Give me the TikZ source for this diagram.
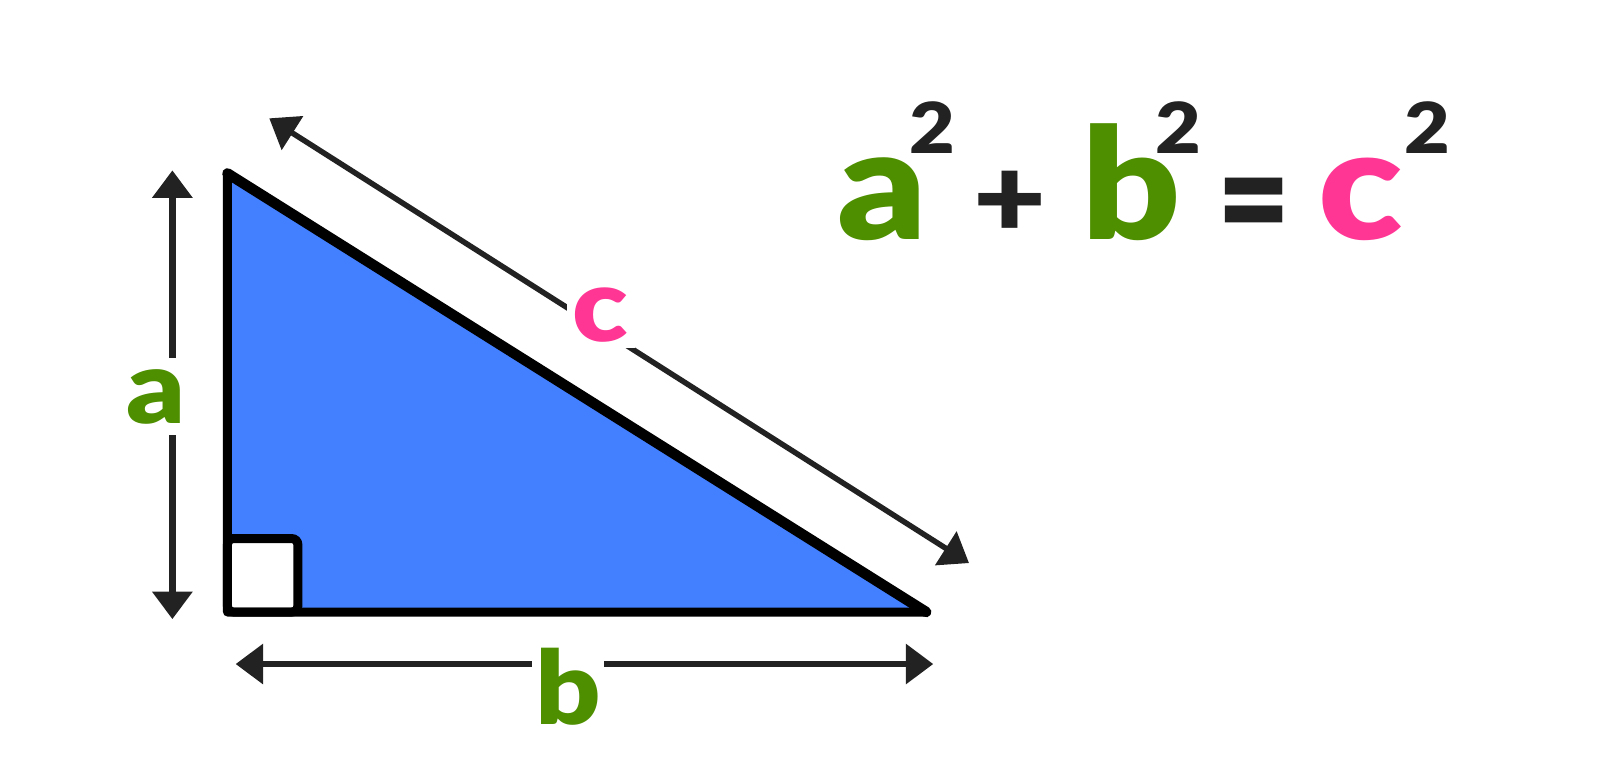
\documentclass[tikz,border=0pt]{standalone}
\usepackage{fontspec}
\usetikzlibrary{arrows.meta}
\newfontfamily\heavyfont{Lato Black}[FakeStretch=1.12]
\definecolor{sideblue}{RGB}{66,128,255}
\definecolor{leggreen}{RGB}{78,143,0}
\definecolor{hyppink}{RGB}{255,54,148}
\definecolor{inkgray}{RGB}{34,34,34}
\tikzset{
	dimarrow/.style={draw=inkgray, line width=#1, {Triangle[length=2.75mm,width=3.9mm]}-{Triangle[length=2.75mm,width=3.9mm]}},
	dimarrow/.default=0.65mm,
	sidelabel/.style={font=\heavyfont\fontsize{29}{29}\selectfont, inner sep=0.6mm, fill=white},
	bigglyph/.style={font=\heavyfont\fontsize{44}{44}\selectfont, inner sep=0pt, anchor=base},
	smallglyph/.style={font=\heavyfont\fontsize{20}{20}\selectfont, inner sep=0pt, anchor=base, text=inkgray},
	opglyph/.style={font=\heavyfont\fontsize{32}{32}\selectfont, inner sep=0pt, text=inkgray}
}

\begin{document}
\begin{tikzpicture}[x=0.0102cm, y=-0.0102cm]
		%%%%% START %%%%%
		\useasboundingbox (0, 0) rectangle (1568.63, 765.69);
		
		% triangle
		\fill[sideblue] (223, 170) -- (223, 600) -- (908, 600) -- cycle;
		\draw[fill=white, line width=0.9mm, rounded corners=0.6mm] (223, 528) rectangle (292, 600);
		\draw[line width=0.9mm, line join=round] (223, 170) -- (223, 600) -- (908, 600) -- cycle;
		\draw[line width=1.05mm, line cap=round] (223, 170) -- (908, 600);
		
		% side arrows
		\coordinate (aTop) at (169, 167);
		\coordinate (aBot) at (169, 607);
		\coordinate (bLeft) at (231, 651);
		\coordinate (bRight) at (915, 651);
		\coordinate (cUp) at (264, 116);
		\coordinate (cDown) at (950, 552);
		\draw[dimarrow] (aTop) -- (aBot);
		\draw[dimarrow] (bLeft) -- (bRight);
		\draw[dimarrow=0.55mm] (cUp) -- (cDown);
		
		\node[sidelabel, text=leggreen, inner ysep=1.1mm] (aLbl) at (153, 389) {a};
		\node[sidelabel, text=leggreen, inner xsep=0.3mm] (bLbl) at (557, 673) {b};
		\node[sidelabel, text=hyppink] (cLbl) at (589, 309) {c};
		
		% equation
		\node[bigglyph, text=leggreen] (eqA) at (865, 235) {a};
		\node[smallglyph] (eqA2) at (914, 150) {2};
		\node[opglyph] (eqPlus) at (990, 200) {+};
		\node[bigglyph, text=leggreen] (eqB) at (1109, 235) {b};
		\node[smallglyph] (eqB2) at (1155, 150) {2};
		\node[opglyph, yscale=1.35] (eqEq) at (1229, 211) {=};
		\node[bigglyph, text=hyppink] (eqC) at (1334, 235) {c};
		\node[smallglyph] (eqC2) at (1399, 150) {2};
		%%%%% END %%%%%
	\end{tikzpicture}
\end{document}
